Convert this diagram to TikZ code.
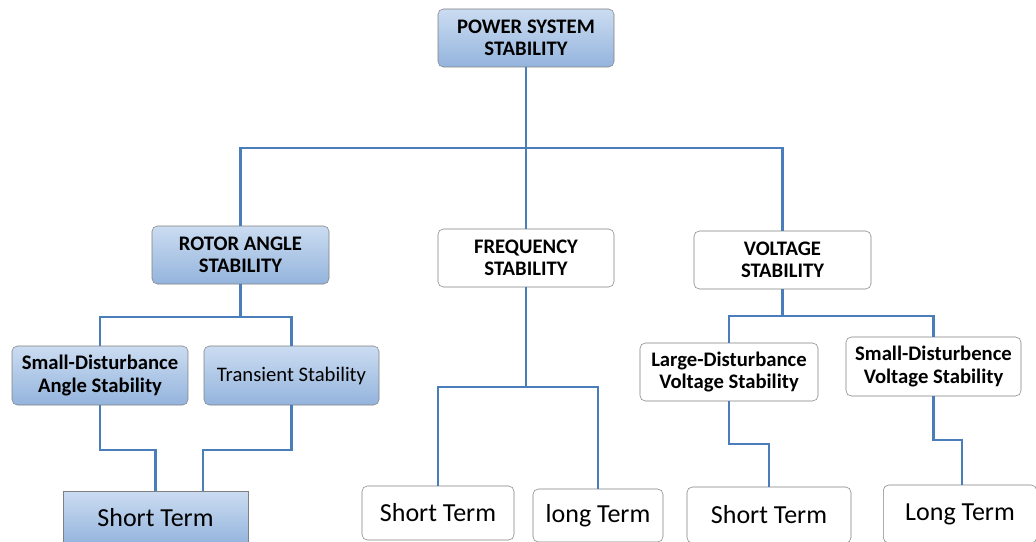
\documentclass[tikz,border=0pt]{standalone}
\usepackage{fontspec}
\setmainfont{Carlito}
\definecolor{linkblue}{RGB}{74,126,187}
\definecolor{boxtop}{RGB}{203,220,241}
\definecolor{boxbot}{RGB}{148,180,221}
\definecolor{boxline}{RGB}{128,128,128}

\begin{document}
\begin{tikzpicture}[x=0.75pt, y=-0.75pt,
	main/.style = {draw=boxline, rounded corners=4pt, inner sep=0pt, align=center, font=\fontsize{15.5}{16.8}\selectfont},
	blue/.style = {main, top color=boxtop, bottom color=boxbot},
	white/.style = {main, fill=white},
	big/.style = {font=\fontsize{19.5}{22}\selectfont},
	link/.style = {draw=linkblue, line width=2.2pt}]
	\useasboundingbox (0,0) rectangle (1036,542);
	\node[blue, minimum width=132pt, minimum height=43.5pt] (1) at (526,38) {\bfseries POWER SYSTEM\\\bfseries STABILITY};
	\node[blue, minimum width=132.75pt, minimum height=43.5pt] (2) at (240.5,255) {\bfseries ROTOR ANGLE\\\bfseries STABILITY};
	\node[white, minimum width=132pt, minimum height=43.5pt] (3) at (526,258) {\bfseries FREQUENCY\\\bfseries STABILITY};
	\node[white, minimum width=132.75pt, minimum height=43.5pt] (4) at (782.5,260) {\bfseries VOLTAGE\\\bfseries STABILITY};
	\node[blue, minimum width=132pt, minimum height=44.25pt] (5) at (100,375.5) {\bfseries Small-Disturbance\\\bfseries Angle Stability};
	\node[blue, minimum width=131.25pt, minimum height=44.25pt] (6) at (291.5,375.5) {Transient Stability};
	\node[blue, big, rounded corners=0pt, minimum width=138.75pt, minimum height=40.5pt] (7) at (155.5,518) {Short Term};
	\node[white, big, minimum width=114pt, minimum height=40.5pt] (8) at (438,513) {Short Term};
	\node[white, big, minimum width=97.5pt, minimum height=39.75pt] (9) at (598,515.5) {long Term};
	\node[white, minimum width=133.5pt, minimum height=43.5pt] (10) at (729,372) {\bfseries Large-Disturbance\\\bfseries Voltage Stability};
	\node[white, minimum width=131.25pt, minimum height=44.25pt] (11) at (933.5,366.5) {\bfseries Small-Disturbence\\\bfseries Voltage Stability};
	\node[white, big, minimum width=123pt, minimum height=42pt] (12) at (769,515) {Short Term};
	\node[white, big, minimum width=115pt, minimum height=43.5pt] (13) at (960,514) {Long Term};
	% junctions
	\coordinate (j1) at (526,148);
	\coordinate (j2) at (240.5,317);
	\coordinate (j3) at (155.5,450);
	\coordinate (j4) at (203,450);
	\coordinate (j5) at (526,387);
	\coordinate (j6) at (782.5,316);
	\coordinate (j7) at (769,444);
	\coordinate (j8) at (962,440);
	% connectors
	\draw[link] (1.south) -- (3.north);
	\draw[link] (2.north) |- (j1) -| (4.north);
	\draw[link] (2.south) -- (j2);
	\draw[link] (5.north) |- (j2) -| (6.north);
	\draw[link] (5.south) |- (j3) -- (7.north);
	\draw[link] (6.south) |- (j4) -- (j4 |- 7.north);
	\draw[link] (3.south) -- (j5);
	\draw[link] (8.north) |- (j5) -| (9.north);
	\draw[link] (4.south) -- (j6);
	\draw[link] (10.north) |- (j6) -| (11.north);
	\draw[link] (10.south) |- (j7) -- (12.north);
	\draw[link] (11.south) |- (j8) -- (j8 |- 13.north);
\end{tikzpicture}
\end{document}
